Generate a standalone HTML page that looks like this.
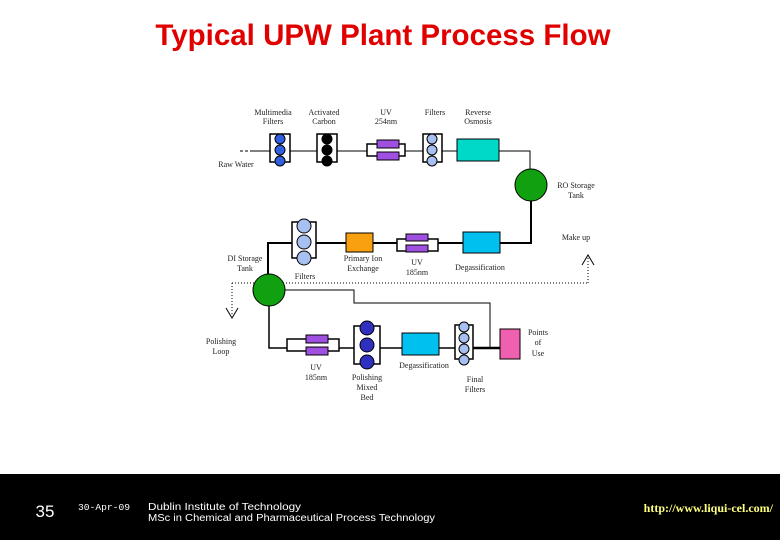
<!DOCTYPE html>
<html><head><meta charset="utf-8"><style>
html,body{margin:0;padding:0;background:#fff;}
svg{display:block;}
</style></head><body>
<svg width="780" height="540" viewBox="0 0 780 540" xmlns="http://www.w3.org/2000/svg">
<rect width="780" height="540" fill="#fff"/>
<text x="383" y="45" text-anchor="middle" font-family="Liberation Sans, sans-serif" font-weight="bold" font-size="29.5" fill="#e00000">Typical UPW Plant Process Flow</text>

<g font-family="Liberation Serif, serif" font-size="8" fill="#222" text-anchor="middle">
<text x="273" y="115">Multimedia</text><text x="273" y="124">Filters</text>
<text x="324" y="115">Activated</text><text x="324" y="124">Carbon</text>
<text x="386" y="115">UV</text><text x="386" y="124">254nm</text>
<text x="435" y="115">Filters</text>
<text x="478" y="115">Reverse</text><text x="478" y="124">Osmosis</text>
<text x="236" y="167">Raw Water</text>
<text x="576" y="188">RO Storage</text><text x="576" y="198">Tank</text>
<text x="576" y="240">Make up</text>
<text x="245" y="261">DI Storage</text><text x="245" y="271">Tank</text>
<text x="305" y="279">Filters</text>
<text x="363" y="261">Primary Ion</text><text x="363" y="271">Exchange</text>
<text x="417" y="265">UV</text><text x="417" y="275">185nm</text>
<text x="480" y="270">Degassification</text>
<text x="221" y="344">Polishing</text><text x="221" y="354">Loop</text>
<text x="538" y="335">Points</text><text x="538" y="345">of</text><text x="538" y="356">Use</text>
<text x="316" y="370">UV</text><text x="316" y="380">185nm</text>
<text x="367" y="380">Polishing</text><text x="367" y="390">Mixed</text><text x="367" y="400">Bed</text>
<text x="424" y="368">Degassification</text>
<text x="475" y="382">Final</text><text x="475" y="392">Filters</text>
</g>

<g stroke="#000" fill="none">
<line x1="240" y1="151" x2="252" y2="151" stroke-dasharray="3,2"/>
<polyline points="252,151 530,151 530,170" stroke-width="1"/>
<polyline points="531,200 531,243 268,243 268,274" stroke-width="2"/>
<polyline points="285,290 354,290 354,303 490,303 490,348"/>
<polyline points="269,306 269,348 500,348" stroke-width="1.5"/>
<line x1="473" y1="348" x2="500" y2="348" stroke-width="2.5"/>
<polyline points="232,283 588,283" stroke-dasharray="1,2"/>
<polyline points="232,283 232,315" stroke-dasharray="1,2"/>
<polyline points="226,308 232,318 238,308"/>
<line x1="588" y1="283" x2="588" y2="256" stroke-dasharray="1,2"/>
<polyline points="582,265 588,255 594,265"/>
</g>

<g stroke="#000" stroke-width="1.5" fill="#fff">
<rect x="270" y="134" width="20" height="28"/>
<rect x="317" y="134" width="20" height="28"/>
<rect x="367" y="144" width="38" height="12"/>
<rect x="423" y="134" width="19" height="28"/>
<rect x="397" y="239" width="41" height="12"/>
<rect x="292" y="222" width="24" height="36"/>
<rect x="287" y="339" width="52" height="12"/>
<rect x="354" y="326" width="26" height="38"/>
<rect x="455" y="325" width="18" height="34"/>
</g>
<g stroke="#000" stroke-width="1">
<circle cx="280" cy="139" r="5" fill="#3060e0"/><circle cx="280" cy="150" r="5" fill="#3060e0"/><circle cx="280" cy="161" r="5" fill="#3060e0"/>
<circle cx="327" cy="139" r="5" fill="#000"/><circle cx="327" cy="150" r="5" fill="#000"/><circle cx="327" cy="161" r="5" fill="#000"/>
<circle cx="432" cy="139" r="5" fill="#a8c0f0"/><circle cx="432" cy="150" r="5" fill="#a8c0f0"/><circle cx="432" cy="161" r="5" fill="#a8c0f0"/>
<rect x="377" y="140" width="22" height="8" fill="#a050e0"/><rect x="377" y="152" width="22" height="8" fill="#a050e0"/>
<rect x="457" y="139" width="42" height="22" fill="#00d8c8"/>
<circle cx="531" cy="185" r="16" fill="#10a010"/>
<rect x="463" y="232" width="37" height="21" fill="#00c0f0"/>
<rect x="406" y="234" width="22" height="7" fill="#a050e0"/><rect x="406" y="245" width="22" height="7" fill="#a050e0"/>
<rect x="346" y="233" width="27" height="19" fill="#f8a010"/>
<circle cx="304" cy="226" r="7" fill="#a8c0f0"/><circle cx="304" cy="242" r="7" fill="#a8c0f0"/><circle cx="304" cy="258" r="7" fill="#a8c0f0"/>
<circle cx="269" cy="290" r="16" fill="#10a010"/>
<rect x="306" y="335" width="22" height="8" fill="#a050e0"/><rect x="306" y="347" width="22" height="8" fill="#a050e0"/>
<circle cx="367" cy="328" r="7" fill="#3030c0"/><circle cx="367" cy="345" r="7" fill="#3030c0"/><circle cx="367" cy="362" r="7" fill="#3030c0"/>
<rect x="402" y="333" width="37" height="22" fill="#00c0f0"/>
<circle cx="464" cy="327" r="5" fill="#a8c0f0"/><circle cx="464" cy="338" r="5" fill="#a8c0f0"/><circle cx="464" cy="349" r="5" fill="#a8c0f0"/><circle cx="464" cy="360" r="5" fill="#a8c0f0"/>
<rect x="500" y="329" width="20" height="30" fill="#f060b0"/>
</g>

<rect x="0" y="474" width="780" height="66" fill="#000"/>
<text x="45" y="517" text-anchor="middle" font-family="Liberation Sans, sans-serif" font-size="17" fill="#fff">35</text>
<text x="78" y="510" font-family="Liberation Mono, monospace" font-size="9" fill="#fff" textLength="52" lengthAdjust="spacingAndGlyphs">30-Apr-09</text>
<text x="148" y="510" font-family="Liberation Sans, sans-serif" font-size="10" fill="#fff" textLength="153" lengthAdjust="spacingAndGlyphs">Dublin Institute of Technology</text>
<text x="148" y="521" font-family="Liberation Sans, sans-serif" font-size="10" fill="#fff" textLength="287" lengthAdjust="spacingAndGlyphs">MSc in Chemical and Pharmaceutical Process Technology</text>
<text x="773" y="512" text-anchor="end" font-family="Liberation Serif, serif" font-weight="bold" font-size="12" fill="#ffff80">http://www.liqui-cel.com/</text>
</svg>
</body></html>
